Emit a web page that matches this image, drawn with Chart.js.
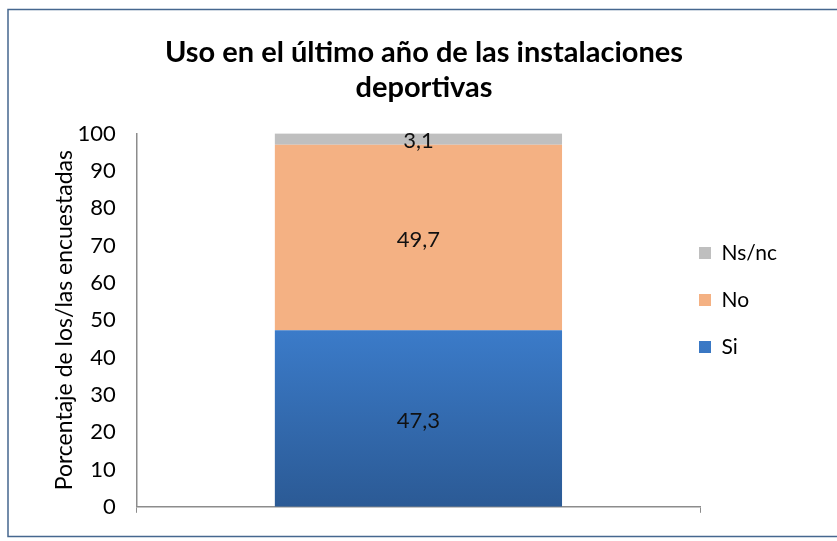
<!DOCTYPE html>
<html>
<head>
<meta charset="utf-8">
<script src="https://cdn.jsdelivr.net/npm/chart.js@4.4.1/dist/chart.umd.min.js"></script>
<style>
  html, body { margin: 0; padding: 0; background: #fff; overflow: hidden; }
  #wrap { width: 837px; height: 541px; }
</style>
</head>
<body>
<div id="wrap"><canvas id="chart"></canvas></div>
<script>
// datos del grafico
let categorias = ['Uso'];
let si = [47.3];
let no = [49.7];
let nsnc = [3.1];
let marcasY = [0, 10, 20, 30, 40, 50, 60, 70, 80, 90, 100];

Chart.defaults.font.family = 'Lato, "Open Sans", sans-serif';
Chart.defaults.color = '#000';

// degradado azul de la barra "Si"
let azulDegradado = (context) => {
  const chart = context.chart;
  const area = chart.chartArea;
  if (!area) return '#3a78c4';
  const y = chart.scales.y;
  const g = chart.ctx.createLinearGradient(0, y.getPixelForValue(si[0]), 0, y.getPixelForValue(0));
  g.addColorStop(0, '#3b7bc9');
  g.addColorStop(1, '#2b5a95');
  return g;
}

// marco exterior del grafico
let marco = {
  id: 'marco',
  beforeDraw(chart) {
    const ctx = chart.ctx;
    ctx.save();
    ctx.strokeStyle = '#46678f';
    ctx.lineWidth = 1.5;
    ctx.strokeRect(8, 9.5, 900, 527);
    ctx.restore();
  }
}

// etiquetas con el valor dentro de cada segmento
let etiquetas = {
  id: 'etiquetas',
  afterDatasetsDraw(chart) {
    const ctx = chart.ctx;
    ctx.save();
    ctx.font = '22px Lato';
    ctx.fillStyle = '#111';
    ctx.textAlign = 'center';
    ctx.textBaseline = 'middle';
    chart.data.datasets.forEach((ds, i) => {
      chart.getDatasetMeta(i).data.forEach((bar, j) => {
        const p = bar.getCenterPoint();
        ctx.fillText(String(ds.data[j]).replace('.', ','), p.x, p.y + 2);
      });
    });
    ctx.restore();
  }
}

// la leyenda de Excel queda pegada al eje y algo mas abajo
let moverLeyenda = {
  id: 'moverLeyenda',
  afterLayout(chart) {
    const l = chart.legend;
    l.left -= 27;
    l.right -= 27;
    l.top += 33;
    l.bottom += 33;
  }
}

var ctx = document.getElementById('chart').getContext('2d');
var chart = new Chart(ctx, {
  type: 'bar',
  data: {
    labels: categorias,
    datasets: [
      { label: 'Si', data: si, backgroundColor: azulDegradado },
      { label: 'No', data: no, backgroundColor: '#f4b183' },
      { label: 'Ns/nc', data: nsnc, backgroundColor: '#bfbfbf' }
    ]
  },
  options: {
    responsive: true,
    maintainAspectRatio: false,
    animation: false,
    datasets: { bar: { categoryPercentage: 1, barPercentage: 0.51 } },
    layout: { padding: { top: 10, left: 40, right: 29, bottom: 17 } },
    plugins: {
      title: {
        display: true,
        text: ['Uso en el último año de las instalaciones', 'deportivas'],
        font: { size: 29, weight: 'bold', lineHeight: 1.2 },
        color: '#000',
        padding: { top: 25, bottom: 29 }
      },
      legend: {
        position: 'right',
        reverse: true,
        maxWidth: 108,
        labels: { boxWidth: 12, boxHeight: 12, padding: 26, font: { size: 21 }, color: '#000' }
      },
      tooltip: { enabled: false }
    },
    scales: {
      x: {
        stacked: true,
        ticks: { display: false },
        grid: { display: true, drawOnChartArea: false, tickLength: 6, color: '#8c8c8c' },
        border: { color: '#8c8c8c', width: 1.5 }
      },
      y: {
        stacked: true,
        min: 0,
        max: 100,
        afterBuildTicks: (axis) => { axis.ticks = marcasY.map(v => ({ value: v })); },
        ticks: { padding: 21, font: { size: 22 }, color: '#000' },
        grid: { display: false, drawTicks: false },
        border: { color: '#8c8c8c', width: 1.5 },
        title: {
          display: true,
          text: 'Porcentaje de los/las encuestadas',
          font: { size: 23 },
          color: '#000',
          padding: { top: 11, bottom: -22 }
        }
      }
    }
  },
  plugins: [marco, etiquetas, moverLeyenda]
});
</script>
</body>
</html>
